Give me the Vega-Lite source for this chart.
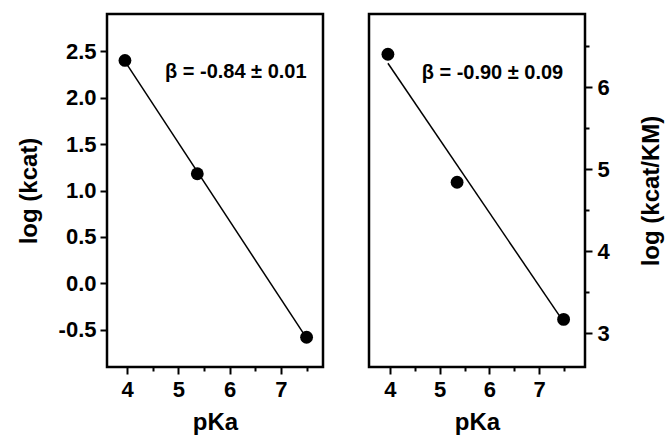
{
  "$schema": "https://vega.github.io/schema/vega-lite/v6.json",
  "padding": {"left": 15, "top": 12, "right": 5, "bottom": 5},
  "datasets": {
    "kcat": [
      {"pKa": 3.96, "v": 2.40},
      {"pKa": 5.37, "v": 1.18},
      {"pKa": 7.50, "v": -0.58}
    ],
    "fitKcat": [
      {"pKa": 3.96, "v": 2.39},
      {"pKa": 7.50, "v": -0.59}
    ],
    "kcatKM": [
      {"pKa": 3.96, "v": 6.40},
      {"pKa": 5.35, "v": 4.84},
      {"pKa": 7.49, "v": 3.17}
    ],
    "fitKcatKM": [
      {"pKa": 3.96, "v": 6.29},
      {"pKa": 7.50, "v": 3.13}
    ],
    "note1": [{"pKa": 6.12, "v": 2.28, "label": "β = -0.84 ± 0.01"}],
    "note2": [{"pKa": 6.06, "v": 6.17, "label": "β = -0.90 ± 0.09"}]
  },
  "spacing": 42,
  "hconcat": [
    {
      "width": 216,
      "height": 353,
      "layer": [
        {
          "data": {"name": "fitKcat"},
          "mark": {"type": "line", "color": "black", "strokeWidth": 1.5},
          "encoding": {
            "x": {"field": "pKa", "type": "quantitative",
              "scale": {"domain": [3.61, 7.82], "nice": false, "zero": false},
              "axis": {"orient": "bottom", "values": [4, 5, 6, 7], "tickSize": 7, "labelPadding": 5, "title": "pKa", "titlePadding": 10}},
            "y": {"field": "v", "type": "quantitative",
              "scale": {"domain": [-0.9, 2.9], "nice": false, "zero": false},
              "axis": {"orient": "left", "values": [-0.5, 0, 0.5, 1, 1.5, 2, 2.5], "format": ".1f", "labelExpr": "replace(datum.label, '−', '-')", "tickSize": 7, "labelPadding": 4, "title": "log (kcat)", "titlePadding": 17}}
          }
        },
        {
          "data": {"name": "kcat"},
          "mark": {"type": "circle", "size": 165, "color": "black", "opacity": 1},
          "encoding": {
            "x": {"field": "pKa", "type": "quantitative",
              "axis": {"orient": "bottom", "values": [4.5, 5.5, 6.5, 7.5], "tickSize": 4, "labels": false, "title": null}},
            "y": {"field": "v", "type": "quantitative", "axis": null}
          }
        },
        {
          "data": {"name": "note1"},
          "mark": {"type": "text", "fontSize": 20, "fontWeight": "bold", "font": "Liberation Sans", "color": "black", "align": "center", "baseline": "middle"},
          "encoding": {
            "x": {"field": "pKa", "type": "quantitative", "axis": null},
            "y": {"field": "v", "type": "quantitative", "axis": null},
            "text": {"field": "label"}
          }
        }
      ],
      "resolve": {"axis": {"x": "independent", "y": "independent"}}
    },
    {
      "width": 216,
      "height": 353,
      "layer": [
        {
          "data": {"name": "fitKcatKM"},
          "mark": {"type": "line", "color": "black", "strokeWidth": 1.5},
          "encoding": {
            "x": {"field": "pKa", "type": "quantitative",
              "scale": {"domain": [3.58, 7.92], "nice": false, "zero": false},
              "axis": {"orient": "bottom", "values": [4, 5, 6, 7], "tickSize": 7, "labelPadding": 5, "title": "pKa", "titlePadding": 10}},
            "y": {"field": "v", "type": "quantitative",
              "scale": {"domain": [2.59, 6.89], "nice": false, "zero": false},
              "axis": {"orient": "right", "values": [3, 4, 5, 6], "tickSize": 7, "labelPadding": 5, "title": "log (kcat/KM)", "titleAngle": 270, "titleBaseline": "top", "titlePadding": 30}}
          }
        },
        {
          "data": {"name": "kcatKM"},
          "mark": {"type": "circle", "size": 165, "color": "black", "opacity": 1},
          "encoding": {
            "x": {"field": "pKa", "type": "quantitative",
              "axis": {"orient": "bottom", "values": [4.5, 5.5, 6.5, 7.5], "tickSize": 4, "labels": false, "title": null}},
            "y": {"field": "v", "type": "quantitative",
              "axis": {"orient": "right", "values": [3.5, 4.5, 5.5, 6.5], "tickSize": 4, "labels": false, "title": null}}
          }
        },
        {
          "data": {"name": "note2"},
          "mark": {"type": "text", "fontSize": 20, "fontWeight": "bold", "font": "Liberation Sans", "color": "black", "align": "center", "baseline": "middle"},
          "encoding": {
            "x": {"field": "pKa", "type": "quantitative", "axis": null},
            "y": {"field": "v", "type": "quantitative", "axis": null},
            "text": {"field": "label"}
          }
        }
      ],
      "resolve": {"axis": {"x": "independent", "y": "independent"}}
    }
  ],
  "config": {
    "font": "Liberation Sans",
    "view": {"stroke": "black", "strokeWidth": 2.5},
    "axis": {
      "domain": false,
      "grid": false,
      "tickColor": "black",
      "tickWidth": 2,
      "labelFont": "Liberation Sans",
      "labelFontWeight": "bold",
      "labelFontSize": 22,
      "labelColor": "black",
      "titleFont": "Liberation Sans",
      "titleFontWeight": "bold",
      "titleFontSize": 24,
      "titleColor": "black"
    }
  }
}
